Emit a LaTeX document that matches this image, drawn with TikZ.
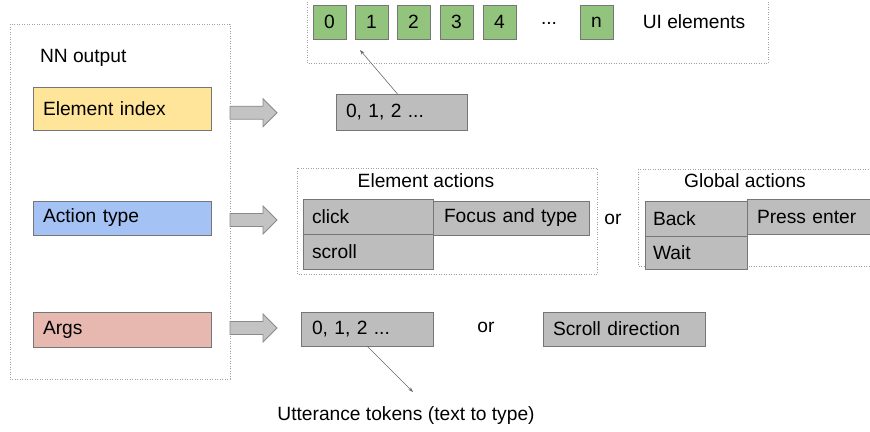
\documentclass[tikz,border=0pt]{standalone}
\usepackage{fontspec}
\usetikzlibrary{arrows.meta}
\setmainfont{Liberation Sans}
\definecolor{bordc}{HTML}{767676}
\definecolor{dotc}{HTML}{A0A0A0}
\definecolor{yel}{HTML}{FFE599}
\definecolor{blu}{HTML}{A4C2F4}
\definecolor{pnk}{HTML}{E6B8AF}
\definecolor{grn}{HTML}{93C47D}
\definecolor{gry}{HTML}{BDBDBD}
\definecolor{arrf}{HTML}{C3C3C3}
\definecolor{arrb}{HTML}{8A8A8A}
\definecolor{linec}{HTML}{6A6A6A}
\newcommand\blockarr[1]{%
  \draw[blockarrow] (230,#1-6.5) -- (263,#1-6.5) -- (263,#1-14) -- (277,#1) -- (263,#1+14) -- (263,#1+6.5) -- (230,#1+6.5) -- cycle;}
\begin{document}
\begin{tikzpicture}[x=1pt,y=-1pt,
  every node/.style={font=\fontsize{19.2}{22}\selectfont, inner sep=0pt, outer sep=0pt},
  dotbox/.style={draw=dotc, line width=0.8pt, dash pattern=on 0.8pt off 1.7pt},
  lbox/.style={draw=bordc, line width=1pt, anchor=west, align=left, minimum height=#1},
  gbox/.style={lbox=#1, fill=gry},
  grbox/.style={draw=bordc, line width=1pt, fill=grn, minimum width=33pt, minimum height=34pt, anchor=north west},
  blockarrow/.style={draw=arrb, fill=arrf, line width=0.8pt, line join=miter},
  conn/.style={draw=linec, line width=0.6pt, -{Stealth[length=5pt,width=3.5pt]}}
]
\useasboundingbox (0,0) rectangle (870,431);

% dotted frames
\draw[dotbox] (10,24) rectangle (230,379);
\draw[dotbox] (307,-3) rectangle (768,63);
\draw[dotbox] (297,168) rectangle (597,274);
\draw[dotbox] (638,169) rectangle (885,266);

% NN output column
\node[anchor=west] (nn) at (40,57.5) {NN output};
\node[lbox=43pt, fill=yel, text width=158pt, inner xsep=10pt] (ei) at (33,108.5) {Element index};
\node[lbox=34pt, fill=blu, text width=158pt, inner xsep=10pt] (at) at (33,218) {Action type};
\node[lbox=35pt, fill=pnk, text width=158pt, inner xsep=10pt] (ar) at (33,329.5) {Args};

% block arrows
\blockarr{112.7}
\blockarr{220}
\blockarr{328}

% UI elements
\node[grbox] (g0) at (313,5) {0};
\node[grbox] (g1) at (355,5) {1};
\node[grbox] (g2) at (397,5) {2};
\node[grbox] (g3) at (440,5) {3};
\node[grbox] (g4) at (483,5) {4};
\node (gd) at (549,23) {...};
\node[grbox] (gn) at (580,5) {n};
\node (uil) at (694,22) {UI elements};

% element index values
\node[gbox=36pt, text width=111pt, inner xsep=10pt] (t0) at (336,112) {0, 1, 2 ...};
\coordinate (p1) at (360,50);
\draw[conn] ([xshift=-4pt]t0.north) -- (p1);

% element actions
\node (ea) at (426,181) {Element actions};
\node[gbox=35pt, text width=112pt, inner xsep=9pt] (click) at (303,216.5) {click};
\node[gbox=35pt, text width=112pt, inner xsep=9pt] (scroll) at (303,251.5) {scroll};
\node[gbox=34pt, text width=134pt, inner xsep=11pt] (focus) at (433,218) {Focus and type};
\node (or1) at (613,219) {or};

% global actions
\node (ga) at (745,181) {Global actions};
\node[gbox=35pt, text width=86pt, inner xsep=8pt] (back) at (645,218.5) {Back};
\node[gbox=33pt, text width=86pt, inner xsep=8pt] (wait) at (645,252.5) {Wait};
\node[gbox=35pt, text width=120pt, inner xsep=10pt] (press) at (747,216.5) {Press enter};

% args values
\node[gbox=34pt, text width=110pt, inner xsep=11pt] (a0) at (301,329) {0, 1, 2 ...};
\node (or2) at (486,327) {or};
\node[gbox=34pt, text width=142pt, inner xsep=10pt] (sd) at (543,329) {Scroll direction};
\coordinate (p2) at (413,392);
\draw[conn] (a0.south) -- (p2);
\node (ut) at (406,416) {Utterance tokens (text to type)};
\end{tikzpicture}
\end{document}
